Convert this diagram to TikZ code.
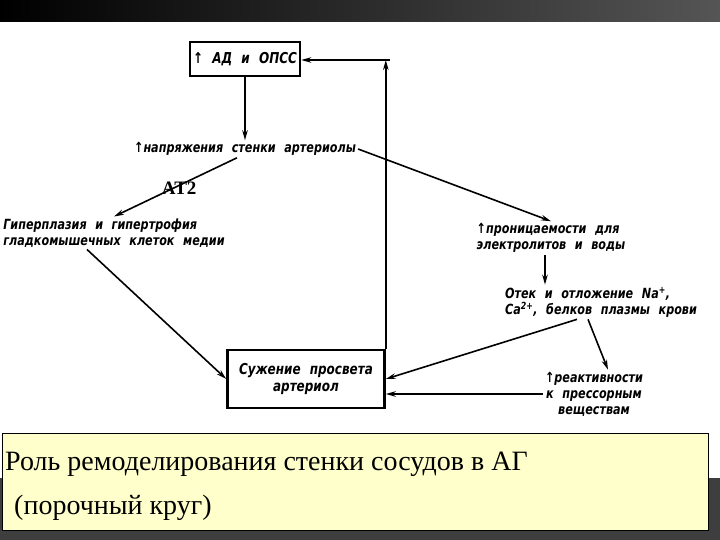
\documentclass[tikz,border=0pt]{standalone}
\usepackage{fontspec}
\usepackage{tikz}
\usetikzlibrary{arrows.meta,positioning}
\setmainfont{Liberation Serif}
\newfontfamily\diagfont{DejaVu Sans}[FakeStretch=0.8,WordSpace=2.2]
\definecolor{capbg}{HTML}{FFFFCC}
\definecolor{barlight}{HTML}{555555}
\definecolor{bardark}{HTML}{3E3E3E}

\begin{document}
\begin{tikzpicture}[
  x=1pt, y=-1pt,
  font=\diagfont\bfseries\itshape\fontsize{14}{16}\selectfont,
  bx/.style={draw=black,line width=2.6pt,align=center,inner sep=3pt,
    font=\diagfont\bfseries\itshape\fontsize{15}{17}\selectfont},
  txt/.style={inner sep=2pt},
  lbl/.style={font=\rmfamily\bfseries\fontsize{19}{21}\selectfont},
  captext/.style={font=\rmfamily\fontsize{28}{30}\selectfont,inner sep=0pt},
  ar/.style={-{Stealth[length=10pt,width=5.5pt]},line width=1.6pt}
]
\useasboundingbox (0,0) rectangle (720,540);

% ==================== BACKGROUND ====================
\fill[left color=black, right color=barlight] (0,0) rectangle (720,22);
\fill[white] (0,22) rectangle (720,478);
\fill[bardark] (0,478) rectangle (720,540);

% ==================== NODES ====================
\node[bx, minimum width=108pt, minimum height=34pt] (ad) at (245,59) {↑ АД и ОПСС};
\node[txt] (napr) at (245,149) {↑напряжения стенки артериолы};
\node[txt, align=left] (gip) at (114,233) {Гиперплазия и гипертрофия\\гладкомышечных клеток медии};
\node[txt, align=left] (pron) at (551,238) {↑проницаемости для\\электролитов и воды};
\node[txt, align=left] (otek) at (601,302) {Отек и отложение Na\textsuperscript{+},\\Ca\textsuperscript{2+}, белков плазмы крови};
\node[txt, align=center] (reakt) at (594,394) {↑реактивности\\к прессорным\\веществам};
\node[bx, minimum width=157pt, minimum height=58pt] (suzh) at (306,379) {Сужение просвета\\артериол};
\coordinate (turn) at (390,60);

% ==================== CONNECTORS ====================
\draw[ar] (ad) -- (napr);
\draw[ar] ([xshift=-8pt]napr.south) -- (gip.north) node[lbl, pos=0.47, yshift=-3pt] (at2) {AT2};
\draw[ar] (napr.east) -- (pron.north);
\draw[ar] ([xshift=-27pt]gip.south) -- (suzh.west);
\draw[ar] ([xshift=-6pt]pron.south) -- ([xshift=-6pt]pron.south |- otek.north);
\draw[ar] ([xshift=-24pt]otek.south) -- (suzh.east);
\draw[ar] ([xshift=-13pt]otek.south) -- ([xshift=14pt]reakt.north);
\draw[ar] (reakt.west) -- (reakt.west -| suzh.east);
\draw[ar] (suzh.north east) -- (suzh.north east |- turn);
\draw[ar] (turn) -- (ad.east |- turn);

% ==================== CAPTION ====================
\draw[fill=capbg, line width=0.8pt] (2,433) rectangle (708,530);
\node[captext, anchor=base west] (cap1) at (5,470) {Роль ремоделирования стенки сосудов в АГ};
\node[captext, anchor=base west] (cap2) at (14,514) {(порочный круг)};

\end{tikzpicture}
\end{document}
